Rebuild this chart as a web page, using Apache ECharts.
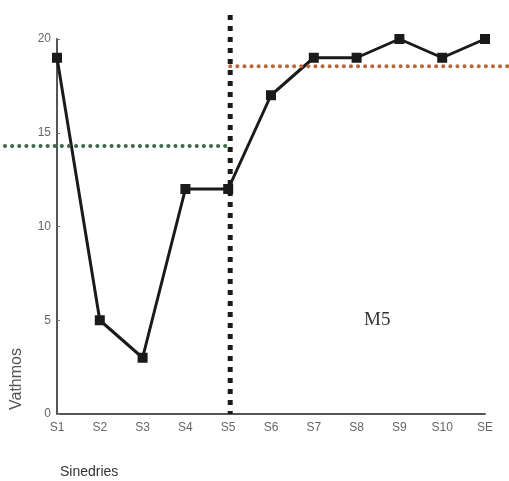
<!DOCTYPE html>
<html><head><meta charset="utf-8">
<script src="https://cdn.jsdelivr.net/npm/echarts@6/dist/echarts.min.js"></script>
<style>html,body{margin:0;padding:0;background:#fff}#c{width:509px;height:481px}</style>
</head><body><div id="c"></div>
<script>
const categories = ['S1','S2','S3','S4','S5','S6','S7','S8','S9','S10','SE'];
const values = [19,5,3,12,12,17,19,19,20,19,20];
const yTicks = [0,5,10,15,20];
const meanBefore = 14.3;
const meanAfter = 18.55;
const splitCategory = 'S5';

const chart = echarts.init(document.getElementById('c'), null, {renderer:'canvas'});
chart.setOption({
  animation:false,
  backgroundColor:'#fff',
  grid:{left:57,right:24,top:39,bottom:67,containLabel:false,outerBoundsMode:'none'},
  xAxis:{type:'category',data:categories,boundaryGap:false,
    axisLine:{lineStyle:{color:'#555',width:2}},
    axisTick:{show:false},
    axisLabel:{color:'#666',fontFamily:'Liberation Sans',fontSize:12,margin:8}},
  yAxis:{type:'value',min:0,max:20,interval:5,
    axisLine:{show:true,lineStyle:{color:'#555',width:2}},
    axisTick:{show:true,inside:true,length:3,lineStyle:{color:'#777'}},
    splitLine:{show:false},
    axisLabel:{color:'#666',fontFamily:'Liberation Sans',fontSize:12,margin:6}},
  series:[{type:'line',data:values,symbol:'rect',symbolSize:10,
    lineStyle:{color:'#1a1a1a',width:3},itemStyle:{color:'#1a1a1a'}}]
});

function draw(){
  const yB = chart.convertToPixel({yAxisIndex:0}, meanBefore);
  const yA = chart.convertToPixel({yAxisIndex:0}, meanAfter);
  const xS = chart.convertToPixel({xAxisIndex:0}, splitCategory)+2;
  const y0 = chart.convertToPixel({yAxisIndex:0}, 0);
  chart.setOption({graphic:[
    {type:'line',shape:{x1:5,y1:yB,x2:xS,y2:yB},style:{stroke:'#3d6a4c',lineWidth:4,lineDash:[0.1,7],lineCap:'round'},z:5},
    {type:'line',shape:{x1:xS,y1:yA,x2:509,y2:yA},style:{stroke:'#b5693c',lineWidth:4,lineDash:[0.1,7],lineCap:'round'},z:5},
    {type:'line',shape:{x1:xS,y1:15,x2:xS,y2:y0},style:{stroke:'#1a1a1a',lineWidth:5,lineDash:[5,6]},z:6},
    {type:'text',x:364,y:311,style:{text:'M5',fill:'#333',font:'19px "Liberation Serif"'},z:7},
    {type:'text',x:60,y:465,style:{text:'Sinedries',fill:'#333',font:'14px "Liberation Sans"'},z:7},
    {type:'text',x:9,y:410,rotation:Math.PI/2,style:{text:'Vathmos',fill:'#555',font:'16px "Liberation Sans"'},z:7}
  ]});
}
draw();
</script></body></html>
